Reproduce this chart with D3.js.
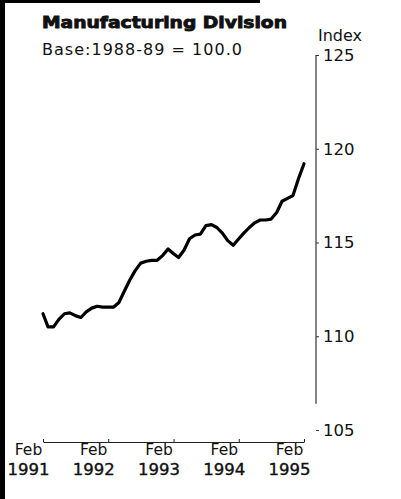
<!DOCTYPE html>
<html>
<head>
<meta charset="utf-8">
<script src="https://cdn.jsdelivr.net/npm/d3@7"></script>
<style>
  body { margin: 0; background: #fff; }
  svg { display: block; }
  text { font-family: "DejaVu Sans", sans-serif; fill: #111; }
</style>
</head>
<body>
<div id="chart"></div>
<script>
// monthly index, Feb 1991 .. Feb 1995
var firstMonth = new Date(1991, 1, 1);
var indexValues = [
	111.2, 110.5, 110.5, 110.9, 111.2, 111.25, 111.1, 111.0, 111.3, 111.5,
	111.6, 111.55, 111.55, 111.55, 111.8, 112.4, 113.0, 113.5, 113.9, 114.0,
	114.05, 114.05, 114.3, 114.65, 114.4, 114.2, 114.6, 115.2, 115.4, 115.45,
	115.9, 115.95, 115.8, 115.5, 115.1, 114.85, 115.2, 115.5, 115.8, 116.05,
	116.2, 116.2, 116.25, 116.6, 117.2, 117.35, 117.5, 118.4, 119.2
];
var yTicks = [105, 110, 115, 120, 125];
var xTickYears = [1991, 1992, 1993, 1994, 1995];
var xTickMonth = "Feb";

var w = 401;
var h = 499;

var svg = d3.select('#chart')
	.append('svg')
	.attr('width', w)
	.attr('height', h);

// scanned page edges
svg.append('rect').attr('x', 0).attr('y', 0).attr('width', 5).attr('height', h).attr('fill', '#000');
svg.append('rect').attr('x', 0).attr('y', 0).attr('width', 260).attr('height', 3).attr('fill', '#000');

var data = indexValues.map(function(v, i) {
	return { date: new Date(firstMonth.getFullYear(), firstMonth.getMonth() + i, 1), value: v };
});

var x = d3.scaleTime()
	.domain([new Date(1991, 1, 1), new Date(1995, 1, 1)])
	.range([43, 304]);

var y = d3.scaleLinear()
	.domain([105, 125])
	.range([430, 55]);

// titles
svg.append('text')
	.attr('x', 42)
	.attr('y', 28)
	.attr('textLength', 245)
	.attr('lengthAdjust', 'spacingAndGlyphs')
	.style('font-size', '16px')
	.style('font-weight', 'bold')
	.style('stroke', '#111')
	.style('stroke-width', '0.9px')
	.text('Manufacturing Division');

svg.append('text')
	.attr('x', 42)
	.attr('y', 55)
	.attr('textLength', 200)
	.style('font-size', '16px')
	.text('Base:1988-89 = 100.0');

svg.append('text')
	.attr('x', 318)
	.attr('y', 41)
	.style('font-size', '16px')
	.text('Index');

// y axis on the right
var yAxis = svg.append('g')
	.attr('transform', 'translate(316,0)')
	.call(d3.axisRight(y).tickValues(yTicks).tickSize(3).tickPadding(4).tickFormat(d3.format('d')));
yAxis.select('.domain').remove();
yAxis.selectAll('line').attr('stroke', '#333');
yAxis.selectAll('text')
	.style('font-size', '16.5px')
	.style('font-family', '"DejaVu Sans", sans-serif')
	.attr('fill', '#111');
yAxis.append('line')
	.attr('x1', 0).attr('x2', 0)
	.attr('y1', y(125)).attr('y2', y(106.4))
	.attr('stroke', '#333')
	.attr('stroke-width', 1.2);

// x axis
var tickDates = xTickYears.map(function(yr) { return new Date(yr, 1, 1); });
var xAxis = svg.append('g')
	.attr('transform', 'translate(0,442)')
	.call(d3.axisBottom(x).tickValues(tickDates).tickSize(-3).tickSizeOuter(0).tickFormat(''));
xAxis.select('.domain').attr('stroke', '#222').attr('stroke-width', 1.2);
xAxis.selectAll('line').attr('stroke', '#222');
xAxis.selectAll('.tick text').remove();

xAxis.selectAll('.tick').each(function(d) {
	var g = d3.select(this);
	g.append('text')
		.attr('x', -15)
		.attr('y', 13)
		.style('font-size', '15.5px')
		.text(xTickMonth);
	g.append('text')
		.attr('x', -15)
		.attr('y', 32.5)
		.style('font-size', '16.5px')
		.style('stroke', '#111')
		.style('stroke-width', '0.4px')
		.text(d.getFullYear());
});

// the line
var line = d3.line()
	.x(function(d) { return x(d.date); })
	.y(function(d) { return y(d.value); });

svg.append('path')
	.datum(data)
	.attr('d', line)
	.attr('fill', 'none')
	.attr('stroke', '#000')
	.attr('stroke-width', 3.2)
	.attr('stroke-linejoin', 'round')
	.attr('stroke-linecap', 'round');
</script>
</body>
</html>
